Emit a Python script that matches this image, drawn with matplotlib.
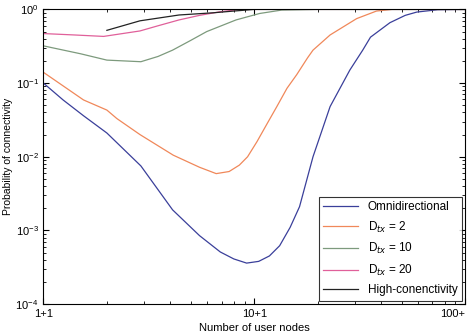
import matplotlib
matplotlib.use("Agg")
import matplotlib.pyplot as plt
from matplotlib.ticker import FixedLocator, LogLocator, NullFormatter

plt.rcParams['font.family'] = ['Liberation Sans', 'DejaVu Sans']

# values
omni_n = [1.0, 1.24, 1.55, 2.0, 2.9, 4.1, 5.5, 6.9, 8.0, 9.2, 10.5, 11.8, 13.2, 14.8, 16.4, 19.0, 22.9, 28.4, 32.7, 35.6, 44.0, 52.0, 59.0, 74.0, 100.0]
omni_p = [0.1, 0.059, 0.036, 0.021, 0.0075, 0.0019, 0.00085, 0.00051, 0.00041, 0.00036, 0.00038, 0.00045, 0.00062, 0.0011, 0.0021, 0.01, 0.048, 0.15, 0.28, 0.42, 0.66, 0.83, 0.92, 0.99, 1.0]

d2_n = [1.0, 1.55, 2.0, 2.23, 2.87, 4.13, 5.5, 6.6, 7.6, 8.5, 9.3, 10.3, 11.5, 12.8, 14.3, 15.9, 17.9, 19.0, 22.9, 30.6, 38.0, 45.0, 100.0]
d2_p = [0.14, 0.059, 0.043, 0.033, 0.020, 0.0105, 0.0072, 0.0059, 0.0063, 0.0077, 0.010, 0.016, 0.028, 0.048, 0.085, 0.13, 0.22, 0.28, 0.45, 0.75, 0.95, 1.0, 1.0]

d10_n = [1.0, 1.5, 2.0, 2.9, 3.5, 4.1, 5.0, 5.95, 8.2, 10.6, 13.5, 20.0, 100.0]
d10_p = [0.32, 0.25, 0.205, 0.195, 0.23, 0.28, 0.38, 0.5, 0.72, 0.88, 0.98, 1.0, 1.0]

d20_n = [1.0, 1.4, 1.93, 2.87, 3.5, 4.4, 5.5, 6.9, 8.5, 100.0]
d20_p = [0.47, 0.45, 0.43, 0.51, 0.6, 0.72, 0.83, 0.93, 1.0, 1.0]

hc_n = [2.0, 2.87, 4.4, 6.4, 8.0, 10.0, 100.0]
hc_p = [0.52, 0.70, 0.84, 0.9, 0.95, 1.0, 1.0]

labels = ['Omnidirectional', r'D$_{tx}$ = 2', r'D$_{tx}$ = 10', r'D$_{tx}$ = 20', 'High-conenctivity']
colors = ['#3a3f9a', '#f0885a', '#7d9a7d', '#e0609a', '#222222']
xtick_labels = ['1+1', '10+1', '100+']

fig = plt.figure(figsize=(4.77, 3.36), dpi=100)
ax = fig.add_axes([0.091, 0.095, 0.884, 0.877])

series = [(omni_n, omni_p), (d2_n, d2_p), (d10_n, d10_p), (d20_n, d20_p), (hc_n, hc_p)]
for (n, p), lab, c in zip(series, labels, colors):
    ax.plot(n, p, color=c, lw=0.9, label=lab)

ax.set_xscale('log')
ax.set_yscale('log')
ax.set_xlim(1, 100)
ax.set_ylim(1e-4, 1)

ax.xaxis.set_major_locator(FixedLocator([1, 10, 100]))
ax.set_xticklabels(xtick_labels)
ax.get_xticklabels()[-1].set_horizontalalignment('right')
ax.xaxis.set_minor_locator(LogLocator(base=10, subs=range(2, 10)))
ax.xaxis.set_minor_formatter(NullFormatter())
ax.yaxis.set_major_locator(FixedLocator([1e-4, 1e-3, 1e-2, 1e-1, 1]))
ax.yaxis.set_minor_locator(LogLocator(base=10, subs=range(2, 10)))
ax.yaxis.set_minor_formatter(NullFormatter())

ax.tick_params(which='both', direction='in', top=True, right=True, labelsize=8)
ax.tick_params(which='major', length=4)
ax.tick_params(which='minor', length=2)

ax.set_xlabel('Number of user nodes', fontsize=8, labelpad=3)
ax.set_ylabel('Probability of connectivity', fontsize=7.5, labelpad=2)

leg = ax.legend(loc='lower right', fontsize=8.5, frameon=True, fancybox=False,
                edgecolor='black', handlelength=3.0, labelspacing=0.55,
                borderaxespad=0.3, borderpad=0.35)
leg.get_frame().set_linewidth(0.8)

plt.savefig('out.png', dpi=100)
